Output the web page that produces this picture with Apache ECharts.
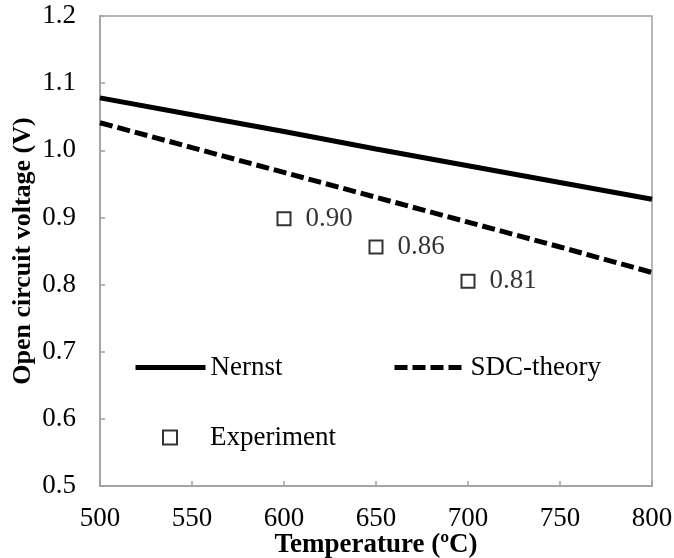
<!DOCTYPE html>
<html>
<head>
<meta charset="utf-8">
<script src="https://cdn.jsdelivr.net/npm/echarts@6/dist/echarts.min.js"></script>
<style>html,body{margin:0;padding:0;background:#fff}#c{width:674px;height:558px}</style>
</head>
<body>
<div id="c"></div>
<script>
var temps = [500, 550, 600, 650, 700, 750, 800];
var nernst = [1.078, 1.053, 1.028, 1.002, 0.977, 0.952, 0.927];
var sdcTheory = [1.041, 1.004, 0.967, 0.930, 0.893, 0.856, 0.818];
var expTemps = [600, 650, 700];
var expValues = [0.898, 0.856, 0.805];
var expLabels = ['0.90', '0.86', '0.81'];
var xTicks = [500, 550, 600, 650, 700, 750, 800];
var yTicks = ['0.5', '0.6', '0.7', '0.8', '0.9', '1.0', '1.1', '1.2'];

var FONT = '"Liberation Serif", "Times New Roman", serif';
var FS = 27;
var AX = '#a0a0a0';
var chart = echarts.init(document.getElementById('c'));
var legText = { fontFamily: FONT, fontSize: FS, color: '#000', lineHeight: 26 };
chart.setOption({
  animation: false,
  backgroundColor: '#fff',
  textStyle: { fontFamily: FONT },
  grid: { left: 100, right: 22, top: 16, bottom: 72, containLabel: false, outerBoundsMode: 'none',
    show: true, borderColor: AX, borderWidth: 1.5, backgroundColor: 'transparent' },
  xAxis: {
    type: 'value', min: 500, max: 800, interval: 50,
    name: 'Temperature (ºC)', nameLocation: 'middle', nameGap: 46, nameMoveOverlap: false,
    nameTextStyle: { fontFamily: FONT, fontSize: FS, fontWeight: 'bold', color: '#000' },
    axisLine: { show: true, lineStyle: { color: AX, width: 1.5 } },
    axisTick: { show: true, inside: true, length: 5, lineStyle: { color: AX, width: 1.5 } },
    splitLine: { show: false },
    axisLabel: { fontFamily: FONT, fontSize: FS, color: '#000', margin: 19,
      formatter: function (v) { return xTicks.indexOf(v) >= 0 ? String(v) : ''; } }
  },
  yAxis: {
    type: 'value', min: 0.5, max: 1.2, interval: 0.1,
    name: 'Open circuit voltage (V)', nameLocation: 'middle', nameGap: 64, nameMoveOverlap: false,
    nameTextStyle: { fontFamily: FONT, fontSize: 26, fontWeight: 'bold', color: '#000' },
    axisLine: { show: true, lineStyle: { color: AX, width: 1.5 } },
    axisTick: { show: true, inside: true, length: 5, lineStyle: { color: AX, width: 1.5 } },
    splitLine: { show: false },
    axisLabel: { fontFamily: FONT, fontSize: FS, color: '#000', margin: 24,
      formatter: function (v) { var i = Math.round((v - 0.5) * 10); return yTicks[i] || ''; } }
  },
  legend: [
    { data: ['Nernst'], left: 133, top: 354, padding: 0, itemWidth: 70, itemHeight: 14,
      itemStyle: { opacity: 0 }, lineStyle: { width: 5 }, textStyle: legText },
    { data: ['SDC-theory'], left: 392, top: 354, padding: 0, itemWidth: 71, itemHeight: 14,
      itemStyle: { opacity: 0 }, lineStyle: { width: 5 }, textStyle: legText },
    { data: ['Experiment'], left: 162, top: 424, padding: 0, itemWidth: 14, itemHeight: 14,
      textStyle: { fontFamily: FONT, fontSize: FS, color: '#000', lineHeight: 26, padding: [0, 0, 0, 28] } }
  ],
  series: [
    { name: 'Nernst', type: 'line', symbol: 'none', showSymbol: false,
      data: temps.map(function (t, i) { return [t, nernst[i]]; }),
      lineStyle: { color: '#000', width: 5 }, itemStyle: { color: '#000' } },
    { name: 'SDC-theory', type: 'line', symbol: 'none', showSymbol: false,
      data: temps.map(function (t, i) { return [t, sdcTheory[i]]; }),
      lineStyle: { color: '#000', width: 5, type: [13, 5] }, itemStyle: { color: '#000' } },
    { name: 'Experiment', type: 'scatter', symbol: 'rect', symbolSize: 13,
      data: expTemps.map(function (t, i) { return [t, expValues[i]]; }),
      itemStyle: { color: '#fff', borderColor: '#000', borderWidth: 2 },
      label: { show: true, position: 'right', distance: 14, fontFamily: FONT, fontSize: FS, color: '#000',
        formatter: function (p) { return expLabels[p.dataIndex]; } } }
  ]
});
</script>
</body>
</html>
